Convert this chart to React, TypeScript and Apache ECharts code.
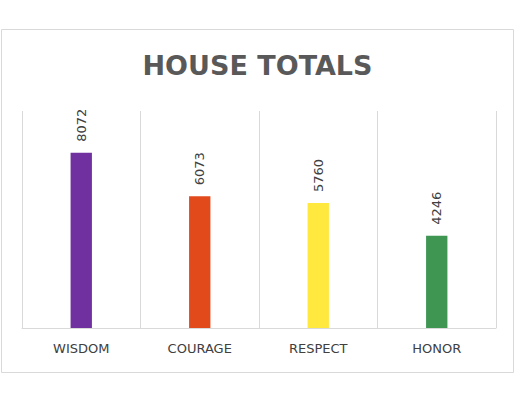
import React, { useEffect, useRef } from "react";
import * as echarts from "echarts";

const titleText = "HOUSE TOTALS";
const categories = ["WISDOM", "COURAGE", "RESPECT", "HONOR"];
const totals = [8072, 6073, 5760, 4246];
const barColors = ["#7030A0", "#E2491B", "#FFE93E", "#3F9552"];
const axisMax = 10000;

export default function App() {
  const ref = useRef<HTMLDivElement>(null);
  useEffect(() => {
    if (!ref.current) return;
    const chart = echarts.init(ref.current, null, { renderer: "svg" });
    chart.setOption({
      animation: false,
      backgroundColor: "#ffffff",
      title: {
        text: titleText,
        left: "center",
        top: 47,
        textStyle: {
          fontFamily: "DejaVu Sans",
          fontWeight: "bold",
          fontSize: 27,
          color: "#595959",
        },
      },
      graphic: [
        {
          type: "rect",
          shape: { x: 1.5, y: 29.5, width: 512, height: 343 },
          style: { fill: "none", stroke: "#d9d9d9", lineWidth: 1 },
          z: -1,
        },
      ],
      grid: { left: 22, right: 19, top: 111, bottom: 76 },
      xAxis: {
        type: "category",
        data: categories,
        axisLine: { show: true, lineStyle: { color: "#d9d9d9", width: 1 } },
        axisTick: { show: false },
        splitLine: { show: true, interval: 0, lineStyle: { color: "#d9d9d9", width: 1 } },
        axisLabel: {
          margin: 14,
          fontFamily: "DejaVu Sans",
          fontSize: 13,
          color: "#404040",
        },
      },
      yAxis: {
        type: "value",
        min: 0,
        max: axisMax,
        show: false,
        splitLine: { show: false },
      },
      series: [
        {
          type: "bar",
          barWidth: "18%",
          data: totals.map((v, i) => ({ value: v, itemStyle: { color: barColors[i] } })),
          label: {
            show: true,
            position: "top",
            rotate: 90,
            align: "left",
            verticalAlign: "middle",
            distance: 11,
            fontFamily: "DejaVu Sans",
            fontSize: 13,
            color: "#404040",
          },
        },
      ],
    });
    return () => chart.dispose();
  }, []);
  return (
    <div
      ref={ref}
      style={{ position: "fixed", left: 0, top: 0, width: 515, height: 404 }}
    />
  );
}
